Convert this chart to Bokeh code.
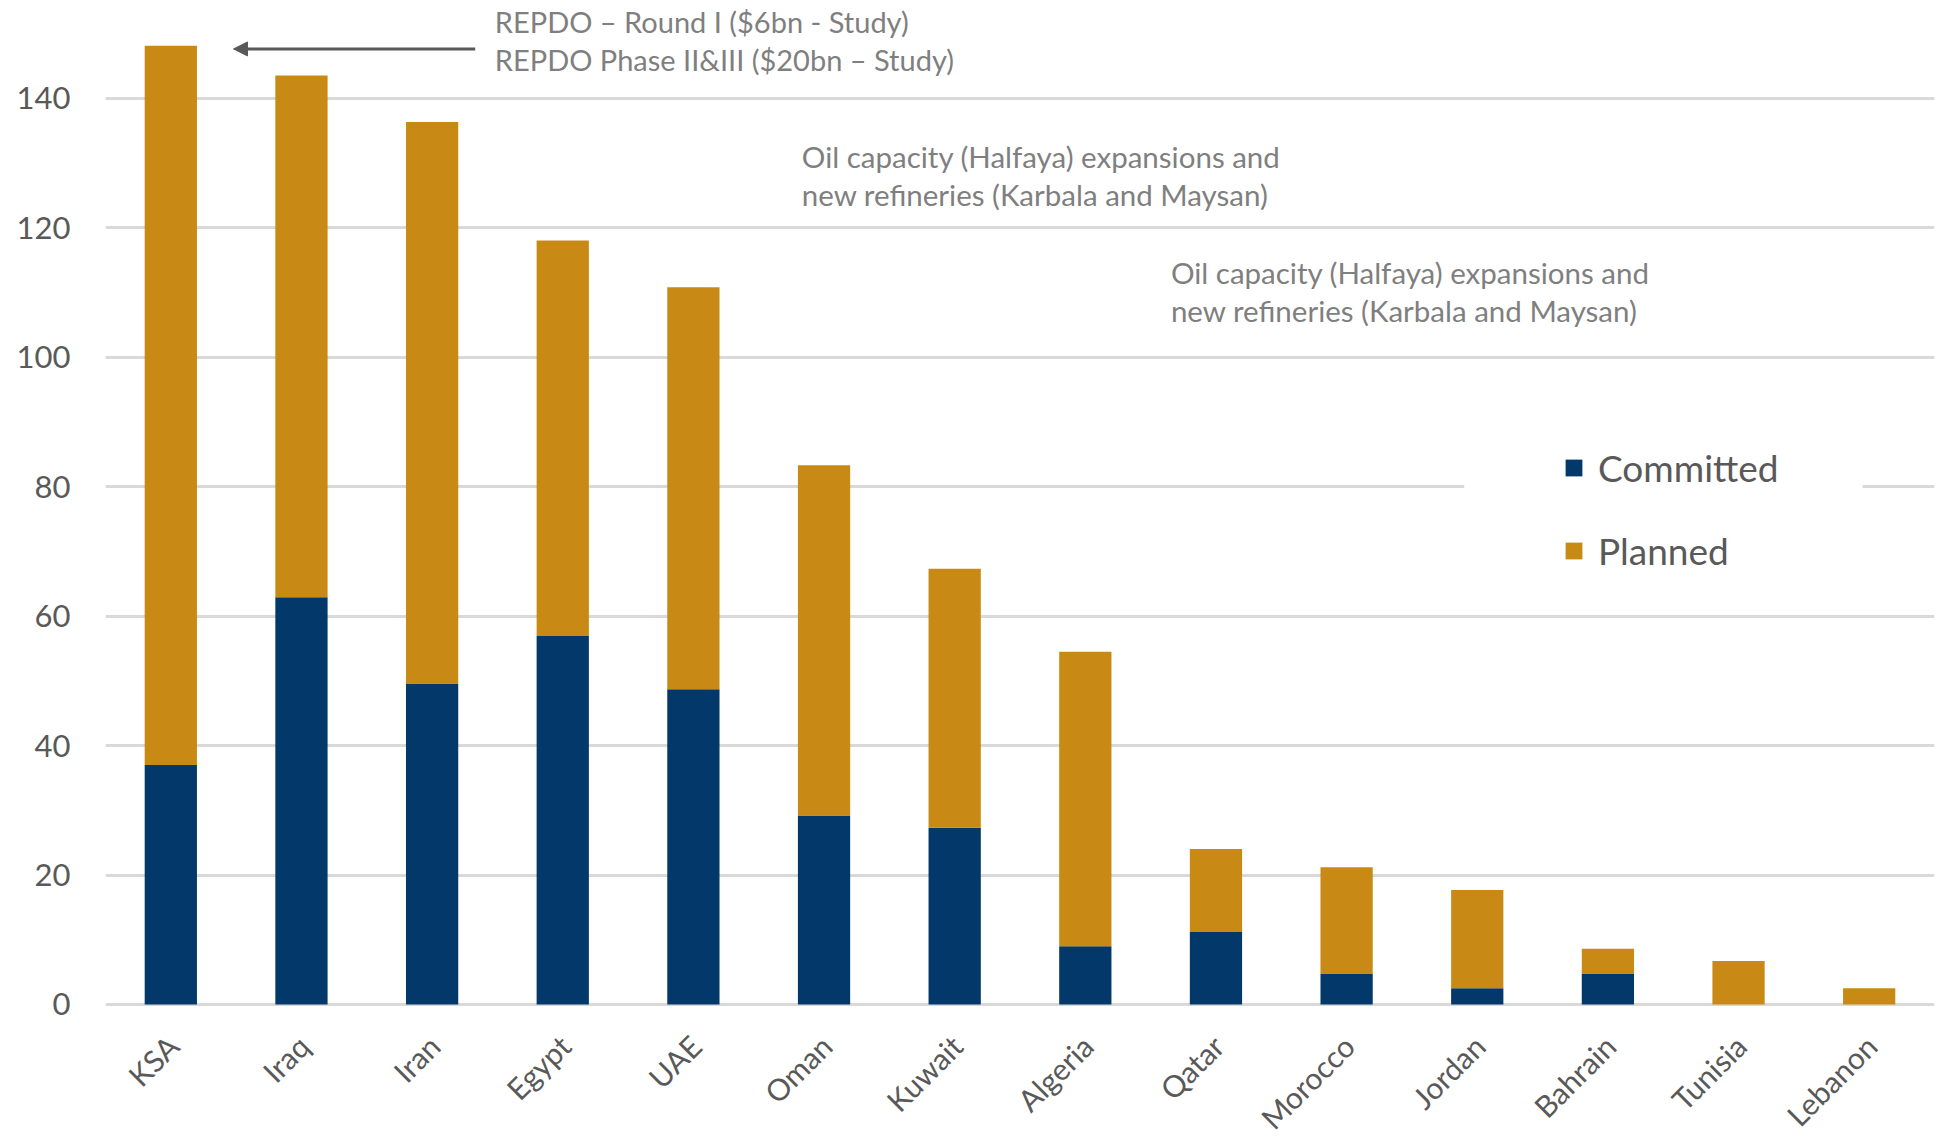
from math import pi
from bokeh.plotting import figure
from bokeh.models import (FactorRange, Range1d, FixedTicker, Legend, LegendItem,
                          Label, Arrow, NormalHead, BoxAnnotation, Span)
from bokeh.core.properties import value
from bokeh.embed import file_html
from bokeh.resources import INLINE

# ---------------- data ----------------
countries = ["KSA", "Iraq", "Iran", "Egypt", "UAE", "Oman", "Kuwait", "Algeria",
             "Qatar", "Morocco", "Jordan", "Bahrain", "Tunisia", "Lebanon"]
committed = [37.0, 62.9, 49.6, 56.9, 48.7, 29.2, 27.3, 9.0, 11.2, 4.8, 2.5, 4.8, 0.0, 0.0]
planned = [111.1, 80.6, 86.7, 61.1, 62.1, 54.1, 40.0, 45.5, 12.8, 16.4, 15.2, 3.8, 6.7, 2.5]
series = ["Committed", "Planned"]
y_ticks = [0, 20, 40, 60, 80, 100, 120, 140]

note_repdo = ["REPDO \u2013 Round I ($6bn - Study)", "REPDO Phase II&III ($20bn \u2013 Study)"]
note_oil_a = ["Oil capacity (Halfaya) expansions and", "new refineries (Karbala and Maysan)"]
note_oil_b = ["Oil capacity (Halfaya) expansions and", "new refineries (Karbala and Maysan)"]

# ---------------- styles ----------------
C_BLUE = "#03386a"
C_GOLD = "#c88a14"
GRID = "#d9d9d9"
TXT = "#595959"
NOTE = "#7f7f7f"
FONT = "Lato"

# frame spans the full height; the area below 0 holds the category labels
p = figure(x_range=FactorRange(factors=countries), y_range=Range1d(-20.853, 155.08),
           width=1936, height=1139, output_backend="svg", toolbar_location=None,
           min_border_left=105, min_border_right=2, min_border_top=0, min_border_bottom=0)
p.outline_line_color = None
p.background_fill_color = "white"
p.border_fill_color = "white"

# zero baseline
p.add_layout(Span(location=0, dimension="width", line_color=GRID, line_width=3, level="underlay"))

data = {"country": countries, "Committed": committed, "Planned": planned}
renderers = p.vbar_stack(series, x="country", width=0.4, color=[C_BLUE, C_GOLD],
                         line_color=None, source=data)

# y axis
p.yaxis.ticker = FixedTicker(ticks=y_ticks)
p.yaxis.axis_line_color = None
p.yaxis.major_tick_line_color = None
p.yaxis.minor_tick_line_color = None
p.yaxis.major_label_standoff = 29
p.yaxis.major_label_text_font = FONT
p.yaxis.major_label_text_font_size = "31px"
p.yaxis.major_label_text_color = TXT

# x axis: category labels drawn as rotated text below the baseline
p.xaxis.visible = False
p.text(x=countries, y=[0] * len(countries), text=countries, angle=pi / 4,
       y_offset=36, x_offset=2, text_align="right", text_baseline="middle",
       text_font=value(FONT), text_font_size="30px", text_color=TXT)

p.xgrid.grid_line_color = None
p.ygrid.ticker = FixedTicker(ticks=y_ticks[1:])
p.ygrid.grid_line_color = GRID
p.ygrid.grid_line_width = 3

# white gap behind the legend
p.add_layout(BoxAnnotation(left=10.40, right=13.45, bottom=77, top=83,
                           fill_color="white", fill_alpha=1, line_color=None))

# legend
legend = Legend(items=[LegendItem(label=s, renderers=[r]) for s, r in zip(series, renderers)],
                location=(1458, 566), orientation="vertical",
                glyph_width=21, glyph_height=21, label_standoff=14,
                label_text_font=FONT, label_text_font_size="37px", label_text_color=TXT,
                spacing=38, padding=0, margin=0,
                background_fill_alpha=0, border_line_color=None)
p.add_layout(legend)

# annotations
def add_note(lines, x, ys, size):
    for t, y in zip(lines, ys):
        p.add_layout(Label(x=x, y=y, text=t, text_font=FONT, text_font_size=size,
                           text_color=NOTE, text_baseline="middle", text_align="left"))

add_note(note_repdo, 2.98, [151.9, 146.0], "29px")
add_note(note_oil_a, 5.33, [131.0, 125.1], "29.5px")
add_note(note_oil_b, 8.155, [113.1, 107.2], "29.5px")

p.add_layout(Arrow(end=NormalHead(size=14, fill_color=TXT, line_color=TXT),
                   x_start=2.83, y_start=147.6, x_end=0.98, y_end=147.6,
                   line_color=TXT, line_width=3))

open("out.html", "w").write(file_html(p, INLINE))
